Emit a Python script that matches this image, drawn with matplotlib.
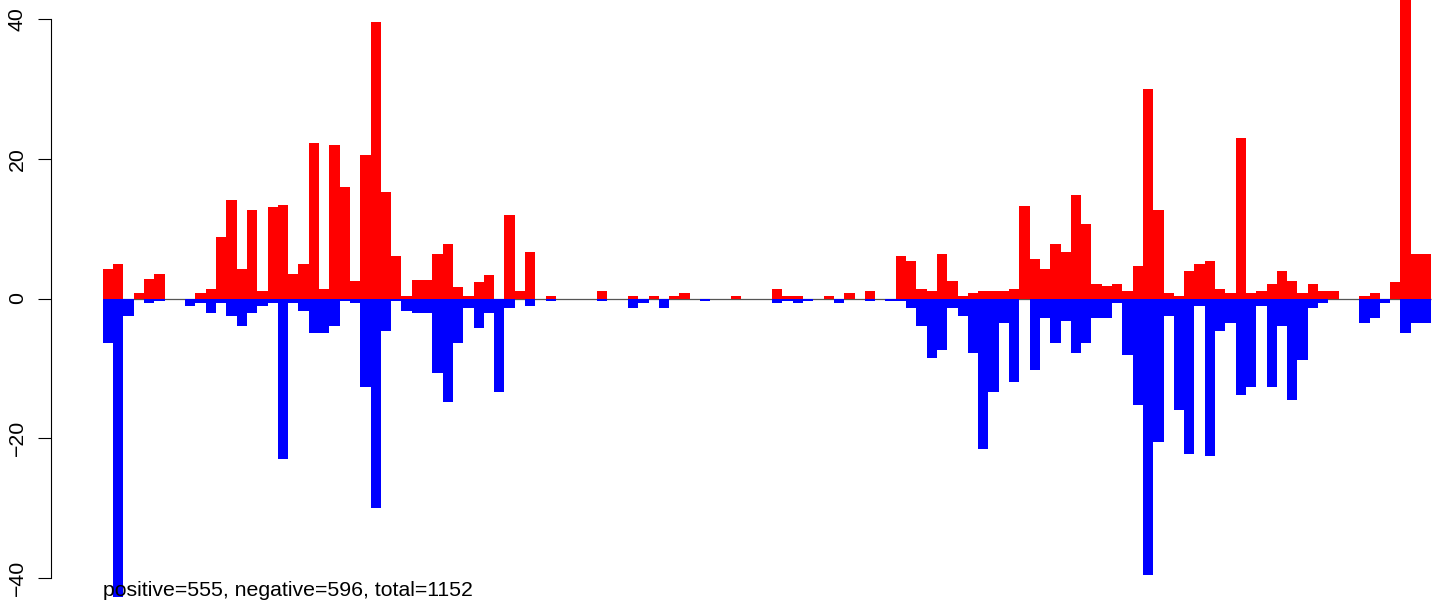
import numpy as np
import matplotlib.pyplot as plt

plt.rcParams['font.family'] = ['Liberation Sans', 'DejaVu Sans']

# values, one per bin (129 bins)
positive = [
    4.2, 4.9, 0, 0.76, 2.8, 3.5, 0, 0, 0, 0.76,
    1.3, 8.8, 14.1, 4.2, 12.6, 1.05, 13.1, 13.4, 3.5, 4.9,
    22.2, 1.3, 21.9, 15.9, 2.5, 20.5, 39.5, 15.2, 6.1, 0.33,
    2.7, 2.7, 6.3, 7.8, 1.7, 0.33, 2.4, 3.4, 0, 11.9,
    1.05, 6.6, 0, 0.33, 0, 0, 0, 0, 1.05, 0,
    0, 0.33, 0, 0.33, 0, 0.33, 0.76, 0, 0, 0,
    0, 0.33, 0, 0, 0, 1.33, 0.33, 0.33, 0, 0,
    0.33, 0, 0.76, 0, 1.05, 0, 0, 6.05, 5.3, 1.33,
    1.05, 6.3, 2.5, 0.33, 0.76, 1.05, 1.05, 1.05, 1.33, 13.3,
    5.6, 4.2, 7.8, 6.6, 14.8, 10.6, 2.05, 1.75, 2.05, 1.05,
    4.6, 29.9, 12.6, 0.76, 0.33, 3.9, 4.9, 5.3, 1.33, 0.76,
    22.9, 0.76, 1.05, 2.05, 3.9, 2.5, 0.76, 2.05, 1.05, 1.05,
    0, 0, 0.33, 0.76, 0, 2.4, 48.0, 6.3, 6.3,
]
negative = [
    -6.35, -43.0, -2.5, 0, -0.62, -0.34, 0, 0, -1.05, -0.62,
    -2.06, -0.62, -2.5, -3.9, -2.06, -1.05, -0.62, -22.9, -0.62, -1.77,
    -4.9, -4.9, -3.9, -0.34, -0.62, -12.6, -30.0, -4.66, -0.33, -1.8,
    -2.05, -2.05, -10.65, -14.85, -6.35, -1.33, -4.25, -2.05, -13.4, -1.33,
    0, -1.05, 0, -0.36, 0, 0, 0, 0, -0.38, 0,
    0, -1.34, -0.62, 0, -1.34, 0, 0, 0, -0.38, 0,
    0, 0, 0, 0, 0, -0.67, -0.38, -0.67, -0.38, 0,
    0, -0.67, 0, 0, -0.38, 0, -0.38, -0.38, -1.39, -3.96,
    -8.5, -7.4, -1.39, -2.5, -7.8, -21.6, -13.4, -3.5, -11.9, 0,
    -10.2, -2.8, -6.35, -3.25, -7.8, -6.35, -2.8, -2.8, -0.62, -8.1,
    -15.2, -39.5, -20.5, -2.5, -15.9, -22.2, -1.05, -22.5, -4.6, -3.5,
    -13.8, -12.6, -1.05, -12.6, -3.9, -14.5, -8.8, -1.39, -0.67, 0,
    0, 0, -3.5, -2.8, -0.67, 0, -4.9, -3.5, -3.5,
]
summary = "positive=555, negative=596, total=1152"
yticks = [-40, -20, 0, 20, 40]

W, H = 1449, 608
fig = plt.figure(figsize=(W / 100, H / 100), dpi=100)
ax = fig.add_axes([51 / W, 11 / H, 1 - 51 / W, 597 / H])

n = len(positive)
x = np.arange(n)
ax.hlines(0, 0, n, color='#555555', lw=0.9, zorder=1)
ax.bar(x, positive, width=1, align='edge', color='#ff0000',
       linewidth=0, antialiased=False, zorder=2)
ax.bar(x, negative, width=1, align='edge', color='#0000ff',
       linewidth=0, antialiased=False, zorder=2)

ax.set_xlim(-5.02, 130.71)
ax.set_ylim(-42.7, 42.7)
for s in ['top', 'right', 'bottom']:
    ax.spines[s].set_visible(False)
ax.spines['left'].set_bounds(-40, 40)
ax.spines['left'].set_linewidth(0.8)
ax.set_xticks([])
ax.set_yticks(yticks)
ax.tick_params(axis='y', length=9.4, width=0.8, pad=8, labelsize=15.3,
               labelrotation=90)
for lab in ax.get_yticklabels():
    lab.set_va('center')

fig.text(103 / W, 1 - 596.5 / H, summary, fontsize=15.3,
         ha='left', va='baseline')

fig.savefig('out.png', dpi=100)
